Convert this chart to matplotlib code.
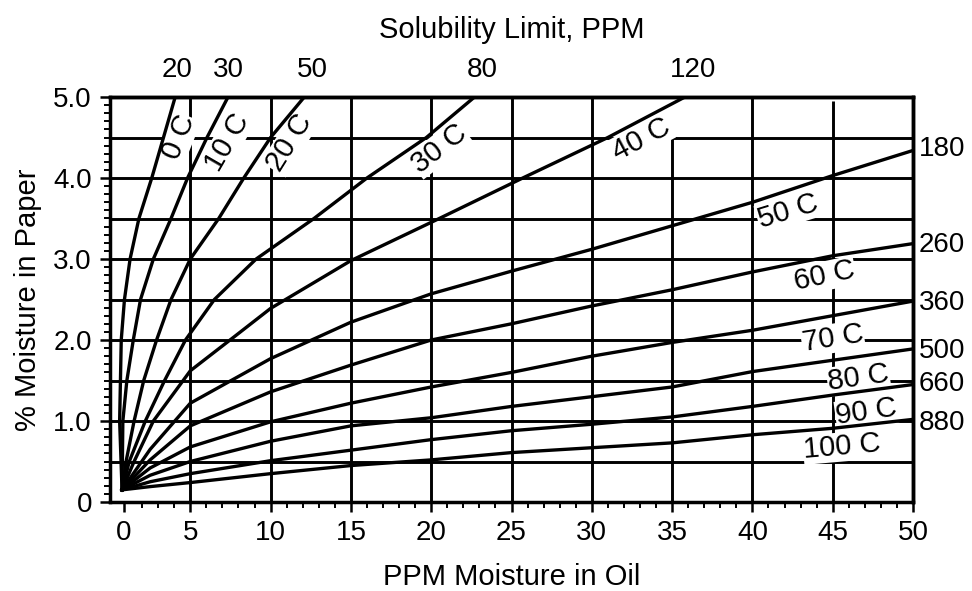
import numpy as np
import matplotlib.pyplot as plt

plt.rcParams['font.family'] = ['Liberation Sans', 'DejaVu Sans']

# Equilibrium curves: % moisture in paper vs ppm moisture in oil
x_0c = [0.75, 0.6, 0.7, 0.9, 1.25, 1.8, 2.6, 3.33, 4.06]
y_0c = [0.15, 1.0, 2.0, 2.5, 3.0, 3.5, 4.0, 4.5, 5.0]

x_10c = [0.75, 0.8, 1.05, 1.45, 1.9, 2.7, 3.8, 4.83, 6.04, 7.35]
y_10c = [0.15, 1.0, 1.5, 2.0, 2.5, 3.0, 3.5, 4.0, 4.5, 5.0]

x_20c = [0.75, 1.0, 1.5, 2.1, 2.9, 3.8, 5.0, 6.77, 8.33, 10.0, 12.1]
y_20c = [0.15, 0.5, 1.0, 1.5, 2.0, 2.5, 3.0, 3.5, 4.0, 4.5, 5.0]

x_30c = [0.75, 1.2, 2.2, 3.4, 4.7, 6.5, 9.1, 12.7, 16.0, 19.7, 22.7]
y_30c = [0.15, 0.5, 1.0, 1.5, 2.0, 2.5, 3.0, 3.5, 4.0, 4.5, 5.0]

x_40c = [0.75, 1.5, 2.7, 5.0, 7.8, 10.0, 15.0, 20.5, 25.7, 31.0, 35.8]
y_40c = [0.15, 0.5, 1.0, 1.62, 2.05, 2.39, 2.98, 3.5, 4.0, 4.5, 5.0]

x_hot = [0.75, 2.5, 5, 10, 15, 20, 25, 30, 35, 40, 45, 50]
y_50c = [0.15, 0.65, 1.22, 1.77, 2.22, 2.57, 2.85, 3.12, 3.41, 3.70, 4.03, 4.34]
y_60c = [0.15, 0.52, 0.94, 1.36, 1.69, 2.00, 2.20, 2.42, 2.62, 2.84, 3.04, 3.19]
y_70c = [0.15, 0.42, 0.68, 0.99, 1.22, 1.42, 1.60, 1.80, 1.97, 2.12, 2.30, 2.48]
y_80c = [0.15, 0.33, 0.50, 0.75, 0.94, 1.04, 1.18, 1.30, 1.42, 1.61, 1.75, 1.89]
y_90c = [0.15, 0.25, 0.35, 0.51, 0.64, 0.77, 0.88, 0.96, 1.05, 1.18, 1.32, 1.45]
y_100c = [0.15, 0.19, 0.24, 0.35, 0.45, 0.52, 0.61, 0.67, 0.73, 0.83, 0.91, 1.02]

curve_names = ['0 C', '10 C', '20 C', '30 C', '40 C', '50 C',
               '60 C', '70 C', '80 C', '90 C', '100 C']

# solubility limits (ppm) shown along the top and right edges
top_sol_pos = [4.17, 7.4, 12.6, 23.2, 36.3]
top_sol_labels = ['20', '30', '50', '80', '120']
right_sol_pos = [4.40, 3.21, 2.49, 1.90, 1.49, 1.01]
right_sol_labels = ['180', '260', '360', '500', '660', '880']

x_tick_pos = [0.87, 5, 10, 15, 20, 25, 30, 35, 40, 45, 50]
x_tick_labels = ['0', '5', '10', '15', '20', '25', '30', '35', '40', '45', '50']
y_tick_pos = [0, 1, 2, 3, 4, 5]
y_tick_labels = ['0', '1.0', '2.0', '3.0', '4.0', '5.0']

# grid lines (the 35 line stops at 4.5 on the original)
grid_x = [5, 10, 15, 20, 25, 30, 35, 40, 45]
grid_x_top = [5, 5, 5, 5, 5, 5, 4.5, 5, 4.95]
grid_y = [0.5, 1.0, 1.5, 2.0, 2.5, 3.0, 3.5, 4.0, 4.5]

# where the curve names sit, and their angle on screen
label_x = [4.3, 7.3, 11.2, 20.5, 33.1, 42.2, 44.5, 45.0, 46.6, 47.1, 45.6]
label_y = [4.5, 4.44, 4.43, 4.36, 4.48, 3.59, 2.79, 2.02, 1.53, 1.11, 0.68]
label_rot = [68, 60, 58, 38, 28, 17, 12, 9, 8, 8, 5]

fig = plt.figure(figsize=(9.72, 5.91), dpi=100)
ax = fig.add_axes([110 / 972, 1 - 502 / 591, 803 / 972, 405 / 591])

ax.vlines(grid_x, 0, grid_x_top, colors='black', lw=2.1, zorder=1)
ax.hlines(grid_y, 0, 50, colors='black', lw=2.1, zorder=1)

ax.plot(x_0c, y_0c, 'k-', lw=2.4, zorder=3)
ax.plot(x_10c, y_10c, 'k-', lw=2.4, zorder=3)
ax.plot(x_20c, y_20c, 'k-', lw=2.4, zorder=3)
ax.plot(x_30c, y_30c, 'k-', lw=2.4, zorder=3)
ax.plot(x_40c, y_40c, 'k-', lw=2.4, zorder=3)
for yv in [y_50c, y_60c, y_70c, y_80c, y_90c, y_100c]:
    ax.plot(x_hot, yv, 'k-', lw=2.4, zorder=3)

for name, lx, ly, rot in zip(curve_names, label_x, label_y, label_rot):
    ax.text(lx, ly, name, fontsize=21, rotation=rot, rotation_mode='anchor',
            ha='center', va='center', zorder=2,
            bbox=dict(facecolor='white', edgecolor='none', pad=0.5))

ax.set_xlim(0, 50)
ax.set_ylim(0, 5)

ax.set_xticks(x_tick_pos, x_tick_labels)
ax.set_xticks(np.arange(2, 50), minor=True)
ax.set_yticks(y_tick_pos, y_tick_labels)
ax.set_yticks(np.arange(0.1, 5.0, 0.1), minor=True)
ax.tick_params(which='major', direction='out', length=7, width=1.8,
               labelsize=20, pad=6)
ax.tick_params(which='minor', direction='out', length=4, width=1.4)

for sp in ax.spines.values():
    sp.set_linewidth(2.5)

ax.set_xlabel('PPM Moisture in Oil', fontsize=21, labelpad=12)
ax.set_ylabel('% Moisture in Paper', fontsize=21, labelpad=8)

# solubility limit scales
ax_top = ax.secondary_xaxis('top')
ax_top.set_xticks(top_sol_pos, top_sol_labels)
ax_top.tick_params(length=0, labelsize=20, pad=10)
ax_top.set_xlabel('Solubility Limit, PPM', fontsize=21, labelpad=14)
ax_top.spines['top'].set_linewidth(2.5)

ax_right = ax.secondary_yaxis('right')
ax_right.set_yticks(right_sol_pos, right_sol_labels)
ax_right.tick_params(length=0, labelsize=20, pad=4)
ax_right.spines['right'].set_linewidth(2.5)

fig.savefig('out.png', dpi=100)
